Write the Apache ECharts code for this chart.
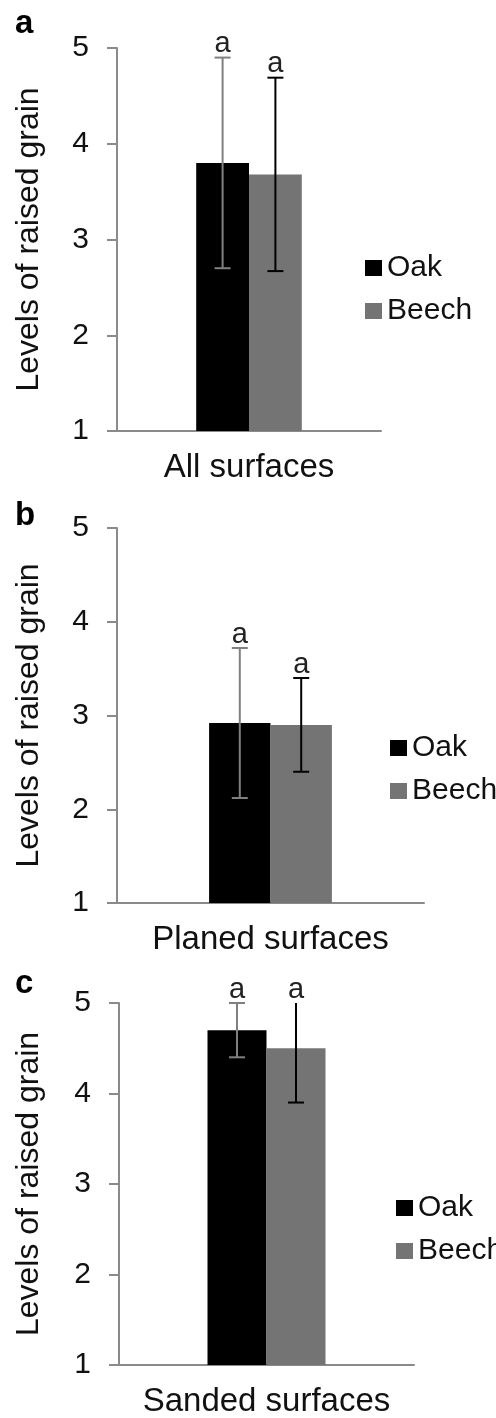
<!DOCTYPE html>
<html>
<head>
<meta charset="utf-8">
<script src="https://cdn.jsdelivr.net/npm/echarts@6/dist/echarts.min.js"></script>
<style>
  html, body { margin: 0; padding: 0; background: #fff; }
  #chart { width: 496px; height: 1418px; }
</style>
</head>
<body>
<div id="chart"></div>
<script>
// values
const panelLetters = ['a', 'b', 'c'];
const categories = ['All surfaces', 'Planed surfaces', 'Sanded surfaces'];
const seriesNames = ['Oak', 'Beech'];
const oakMean = [3.80, 2.92, 4.70];
const beechMean = [3.68, 2.90, 4.50];
const oakErr = [1.10, 0.80, 0.30];
const beechErr = [1.01, 0.50, 0.60];
const oakSig = ['a', 'a', 'a'];
const beechSig = ['a', 'a', 'a'];
const yMin = 1, yMax = 5, yStep = 1;

const FONT = 'Liberation Sans, Arial, sans-serif';
const oakColor = '#000000';
const beechColor = '#747474';
const axisColor = '#8a8a8a';

// panel placement in the page
const grids = [
  { left: 117, top: 48, width: 264, height: 383 },
  { left: 117, top: 528, width: 307, height: 375 },
  { left: 119, top: 1003, width: 295, height: 363 }
];
const legendPos = [
  { left: 360, top: 248 },
  { left: 385, top: 728 },
  { left: 391, top: 1188 }
];
const letterTop = [2, 494, 962];

const chart = echarts.init(document.getElementById('chart'), null, { renderer: 'canvas' });

// error bar + significance letter, side = -1 (left bar) or 1 (right bar)
function errorBars(color, sig) {
  return function (params, api) {
    const cat = api.value(0);
    const lo = api.value(1);
    const rawHi = api.value(2);
    const hi = Math.min(rawHi, yMax);
    const side = api.value(3);
    const band = api.size([1, 0])[0];
    const pLo = api.coord([cat, lo]);
    const pHi = api.coord([cat, hi]);
    const x = pLo[0] + side * 0.1 * band;
    const cap = 8;
    const style = { stroke: color, lineWidth: 2 };
    const children = [
      { type: 'line', shape: { x1: x, y1: pLo[1], x2: x, y2: pHi[1] }, style: style },
      { type: 'line', shape: { x1: x - cap, y1: pLo[1], x2: x + cap, y2: pLo[1] }, style: style }
    ];
    if (rawHi <= yMax) {
      children.push({ type: 'line', shape: { x1: x - cap, y1: pHi[1], x2: x + cap, y2: pHi[1] }, style: style });
    }
    children.push({
      type: 'text',
      style: {
        text: sig, x: x, y: pHi[1] + 1,
        align: 'center', verticalAlign: 'bottom',
        font: '29px ' + FONT, fill: '#222'
      }
    });
    return { type: 'group', children: children };
  };
}

const xAxes = [], yAxes = [], series = [], legends = [], titles = [];
for (let i = 0; i < 3; i++) {
  xAxes.push({
    type: 'category', gridIndex: i, data: [categories[i]],
    axisLine: { lineStyle: { color: axisColor, width: 2 } },
    axisTick: { show: false },
    axisLabel: { color: '#111', fontSize: 33, fontFamily: FONT, margin: 20 }
  });
  yAxes.push({
    type: 'value', gridIndex: i, min: yMin, max: yMax, interval: yStep,
    name: 'Levels of raised grain', nameLocation: 'middle', nameGap: 72 + (grids[i].left - 117),
    nameTextStyle: { color: '#111', fontSize: 32, fontFamily: FONT },
    axisLine: { show: true, lineStyle: { color: axisColor, width: 2 } },
    axisTick: { show: true, length: 10, lineStyle: { color: axisColor, width: 2 } },
    axisLabel: { color: '#111', fontSize: 30, fontFamily: FONT, margin: 28 },
    splitLine: { show: false }
  });
  series.push({
    name: 'Oak', type: 'bar', xAxisIndex: i, yAxisIndex: i,
    data: [oakMean[i]], barWidth: '20%', barGap: '0%',
    itemStyle: { color: oakColor }
  });
  series.push({
    name: 'Beech', type: 'bar', xAxisIndex: i, yAxisIndex: i,
    data: [beechMean[i]], barWidth: '20%', barGap: '0%',
    itemStyle: { color: beechColor }
  });
  series.push({
    name: 'errOak' + i, type: 'custom', xAxisIndex: i, yAxisIndex: i, z: 5,
    renderItem: errorBars('#808080', oakSig[i]),
    data: [[0, oakMean[i] - oakErr[i], oakMean[i] + oakErr[i], -1]]
  });
  series.push({
    name: 'errBeech' + i, type: 'custom', xAxisIndex: i, yAxisIndex: i, z: 5,
    renderItem: errorBars('#000000', beechSig[i]),
    data: [[0, beechMean[i] - beechErr[i], beechMean[i] + beechErr[i], 1]]
  });
  legends.push({
    data: seriesNames, orient: 'vertical', icon: 'rect',
    left: legendPos[i].left, top: legendPos[i].top,
    itemWidth: 17, itemHeight: 16, itemGap: 13,
    selectedMode: false,
    textStyle: { color: '#111', fontSize: 30, fontFamily: FONT }
  });
  titles.push({
    text: panelLetters[i], left: 10, top: letterTop[i],
    textStyle: { fontSize: 33, fontWeight: 'bold', color: '#000', fontFamily: FONT }
  });
}

chart.setOption({
  animation: false,
  backgroundColor: '#ffffff',
  title: titles,
  legend: legends,
  grid: grids,
  xAxis: xAxes,
  yAxis: yAxes,
  series: series
});
</script>
</body>
</html>
